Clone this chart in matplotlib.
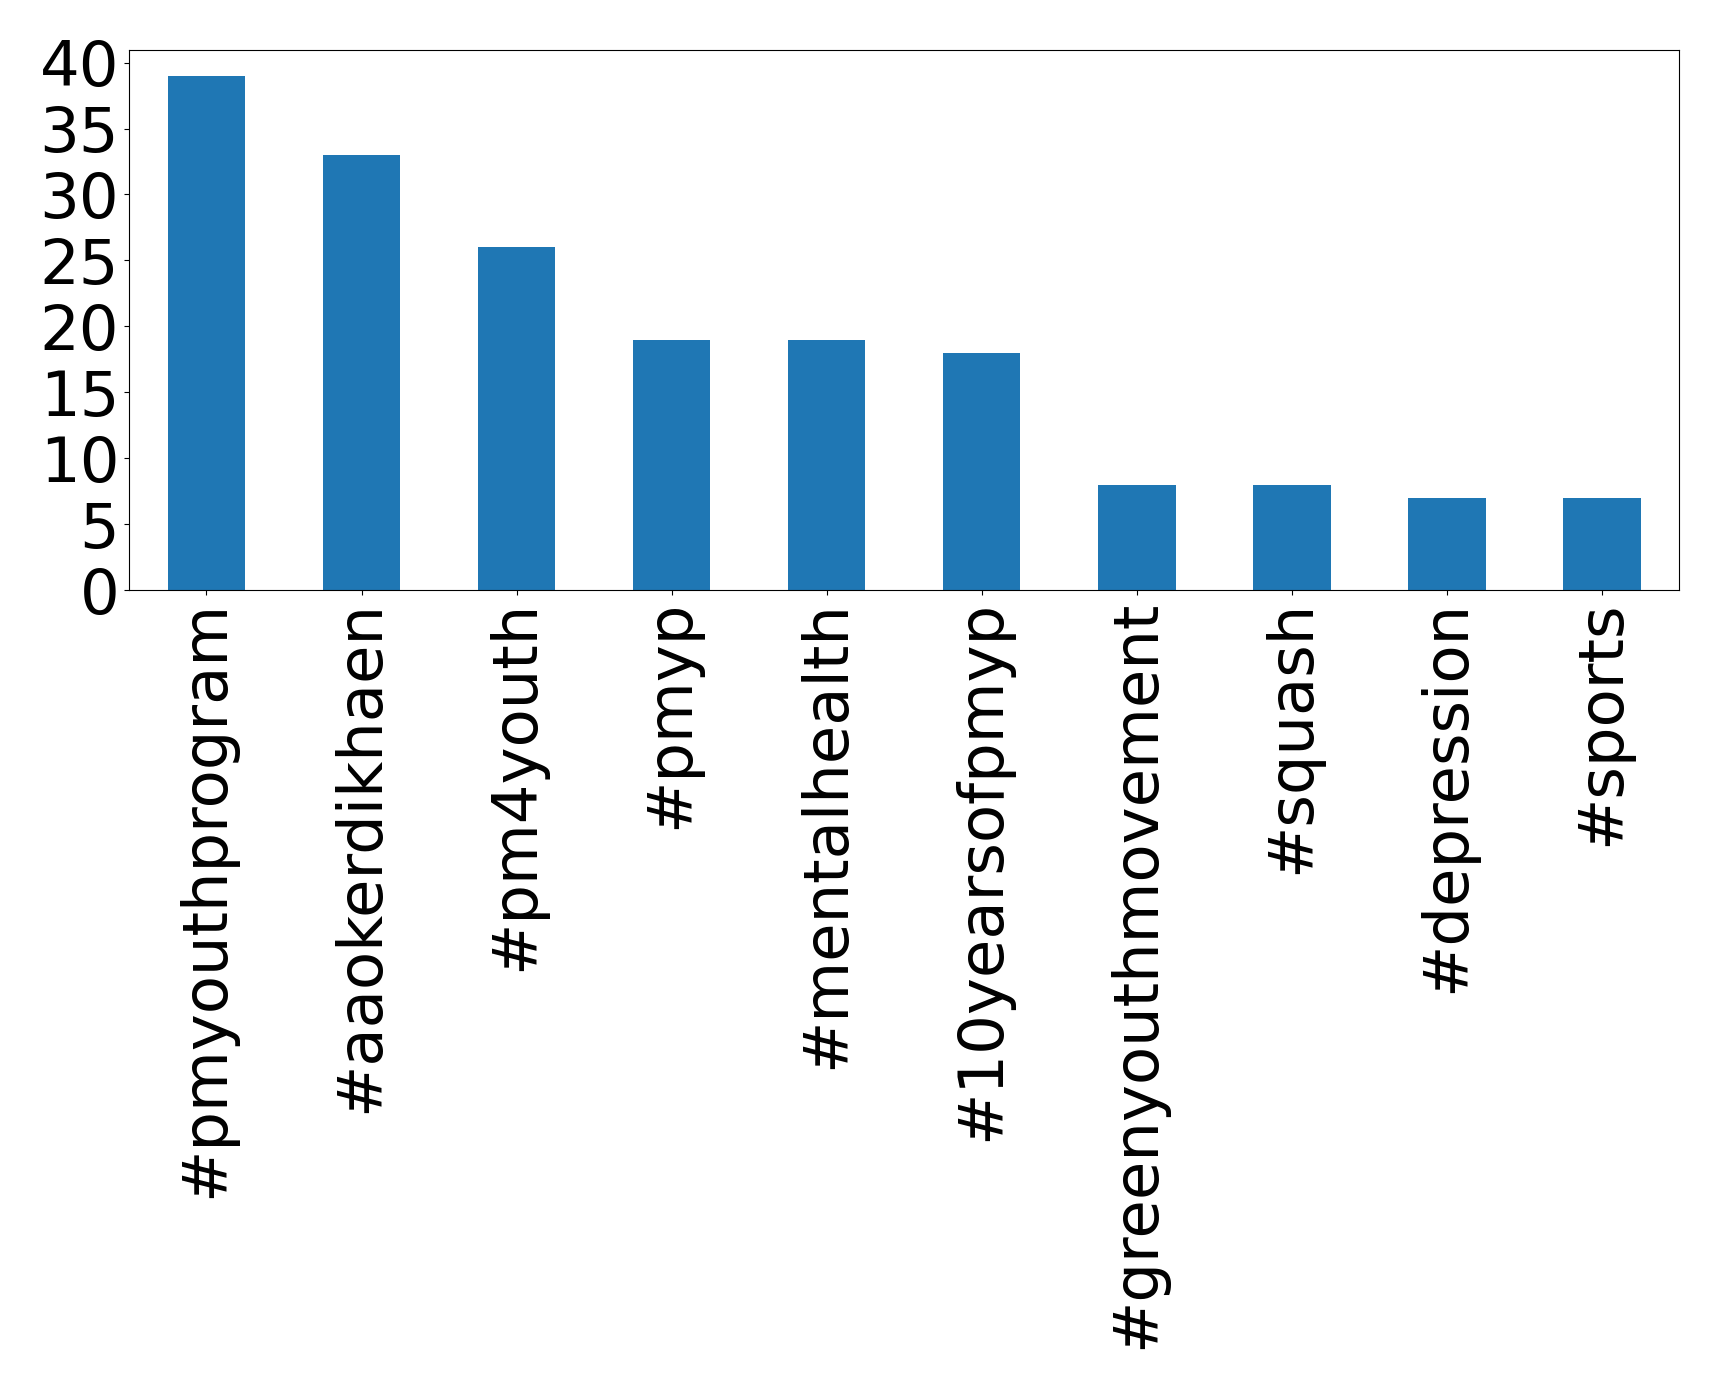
import matplotlib
matplotlib.use("Agg")
import matplotlib.pyplot as plt
import numpy as np

hashtags = ['#pmyouthprogram', '#aaokerdikhaen', '#pm4youth', '#pmyp',
            '#mentalhealth', '#10yearsofpmyp', '#greenyouthmovement',
            '#squash', '#depression', '#sports']
counts = [39, 33, 26, 19, 19, 18, 8, 8, 7, 7]

fig, ax = plt.subplots(figsize=(17.19, 13.89), dpi=100)
x = np.arange(len(hashtags))
ax.bar(x, counts, width=0.5, color='#1f77b4')
ax.set_xlim(-0.5, len(hashtags) - 0.5)
ax.set_ylim(0, 40.95)
ax.set_xticks(x)
ax.set_xticklabels(hashtags, rotation=90, fontsize=45)
ax.set_yticks(range(0, 41, 5))
ax.tick_params(axis='y', labelsize=45)
fig.subplots_adjust(left=0.075, right=0.977, top=0.964, bottom=0.575)
fig.savefig('out.png')
